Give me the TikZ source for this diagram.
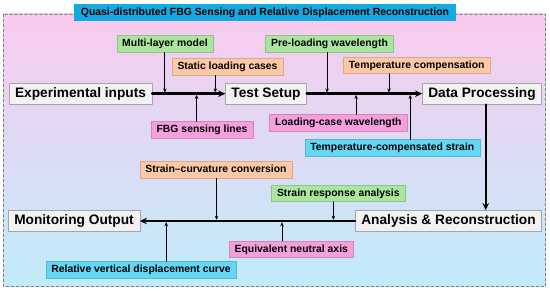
\documentclass[tikz,border=0pt]{standalone}
\usepackage{fontspec}
\setmainfont{Liberation Sans}
\usetikzlibrary{arrows.meta,calc}
\begin{document}
\begin{tikzpicture}[x=1pt, y=-1pt, line cap=round, line join=round,
  stage/.style={draw=stagegray, fill=stagefill, font=\fontsize{13.7}{16}\selectfont\bfseries,
    inner xsep=6pt, inner ysep=4.2pt, text height=10pt, text depth=3pt},
  tag/.style={draw=#1!85!black, fill=#1, font=\fontsize{10.4}{12}\selectfont\bfseries,
    inner xsep=5.5pt, inner ysep=3.5pt, text height=7.6pt, text depth=2.1pt},
  flow/.style={line width=2.4pt, -{Stealth[length=7pt,width=6.5pt]}},
  feed/.style={line width=0.8pt, shorten >=1.2pt, -{Stealth[length=4pt,width=3.5pt]}}]
  \definecolor{stagegray}{RGB}{165,165,165}
  \definecolor{stagefill}{RGB}{242,242,242}
  \definecolor{layergreen}{RGB}{170,230,160}
  \definecolor{loadorange}{RGB}{252,200,165}
  \definecolor{sensepink}{RGB}{245,160,220}
  \definecolor{strainblue}{RGB}{100,215,245}
  \definecolor{titleblue}{RGB}{20,170,225}
  \definecolor{framegray}{RGB}{130,130,130}
  \useasboundingbox (0,0) rectangle (550,291);
  % frame and title
  \path[draw=framegray, densely dashed, top color={rgb,255:red,250;green,202;blue,238},
    bottom color={rgb,255:red,192;green,236;blue,250}] (3.5,14) rectangle (545.5,286.5);
  \node[tag=titleblue, draw=none, inner xsep=6.5pt] (title) at (265,12.5)
    {Quasi-distributed FBG Sensing and Relative Displacement Reconstruction};
  % stages
  \node[stage] (exp) at (80.5,93.7) {Experimental inputs};
  \node[stage] (setup) at (266,93.7) {Test Setup};
  \node[stage] (proc) at (482,93.7) {Data Processing};
  \node[stage] (recon) at (448.5,221) {Analysis \& Reconstruction};
  \node[stage] (out) at (74,221) {Monitoring Output};
  % side inputs
  \node[tag=layergreen] (ml) at (165,44) {Multi-layer model};
  \node[tag=loadorange] (slc) at (227.5,67) {Static loading cases};
  \node[tag=sensepink] (fbg) at (202,130) {FBG sensing lines};
  \node[tag=layergreen] (pre) at (329.5,44) {Pre-loading wavelength};
  \node[tag=loadorange] (tc) at (416.7,65.3) {Temperature compensation};
  \node[tag=sensepink] (lcw) at (338.3,122.7) {Loading-case wavelength};
  \node[tag=strainblue] (tcs) at (392.3,148) {Temperature-compensated strain};
  \node[tag=loadorange] (scc) at (216,170) {Strain--curvature conversion};
  \node[tag=layergreen] (sra) at (338.3,193.3) {Strain response analysis};
  \node[tag=sensepink] (ena) at (291.3,249.3) {Equivalent neutral axis};
  \node[tag=strainblue] (rvd) at (141,269.7) {Relative vertical displacement curve};
  % junctions on the main lines
  \coordinate (j1) at ($(exp.east)!0.174!(setup.west)$);
  \coordinate (j2) at ($(exp.east)!0.607!(setup.west)$);
  \coordinate (j3) at ($(exp.east)!0.863!(setup.west)$);
  \coordinate (k1) at ($(setup.east)!0.177!(proc.west)$);
  \coordinate (k2) at ($(setup.east)!0.428!(proc.west)$);
  \coordinate (k3) at ($(setup.east)!0.713!(proc.west)$);
  \coordinate (k4) at ($(setup.east)!0.897!(proc.west)$);
  \coordinate (m1) at ($(out.east)!0.122!(recon.west)$);
  \coordinate (m2) at ($(out.east)!0.356!(recon.west)$);
  \coordinate (m3) at ($(out.east)!0.660!(recon.west)$);
  \coordinate (m4) at ($(out.east)!0.899!(recon.west)$);
  % main flow
  \draw[flow] (exp) -- (setup);
  \draw[flow] (setup) -- (proc);
  \draw[flow] ([xshift=3.7pt]proc.south) -- ([xshift=3.7pt]proc.south |- recon.north);
  \draw[flow] (recon) -- (out);
  % feeds
  \draw[feed] (ml.south -| j1) -- (j1);
  \draw[feed] (fbg.north -| j2) -- (j2);
  \draw[feed] (slc.south -| j3) -- (j3);
  \draw[feed] (pre.south -| k1) -- (k1);
  \draw[feed] (lcw.north -| k2) -- (k2);
  \draw[feed] (tc.south -| k3) -- (k3);
  \draw[feed] (tcs.north -| k4) -- (k4);
  \draw[feed] (rvd.north -| m1) -- (m1);
  \draw[feed] (scc.south -| m2) -- (m2);
  \draw[feed] (ena.north -| m3) -- (m3);
  \draw[feed] (sra.south -| m4) -- (m4);
\end{tikzpicture}
\end{document}
